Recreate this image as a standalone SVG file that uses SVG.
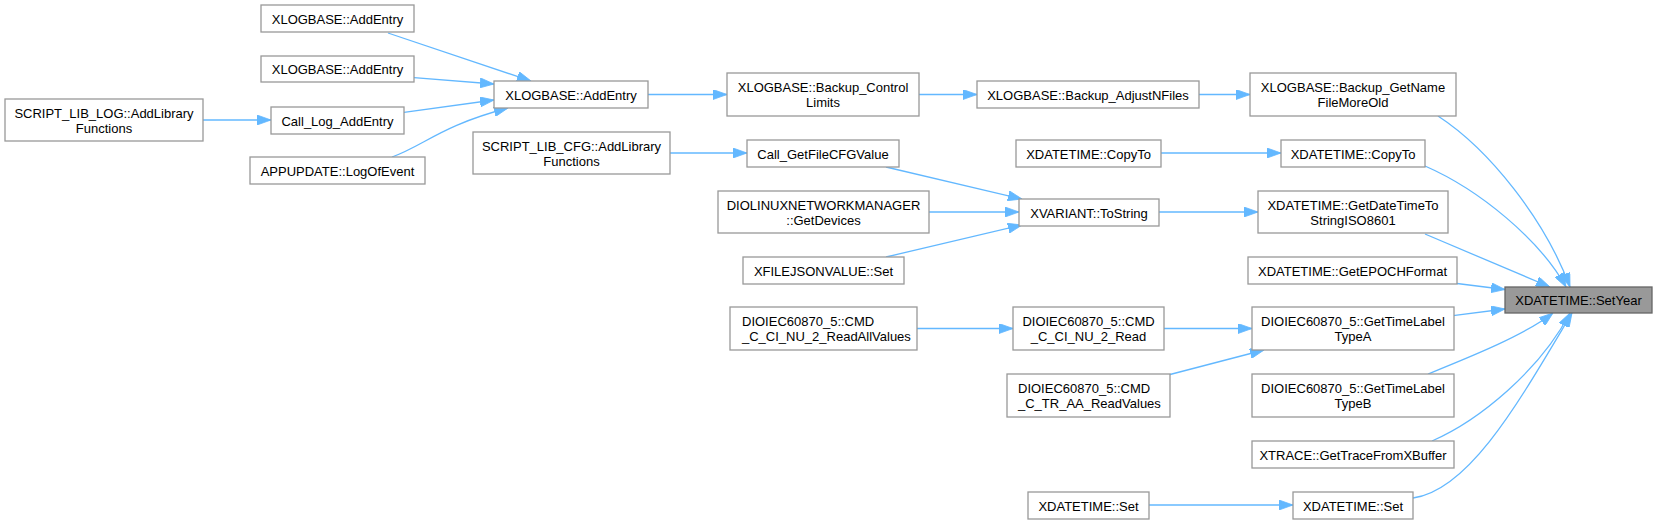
<svg xmlns="http://www.w3.org/2000/svg" width="1658" height="524" viewBox="0 0 1658 524">
<style>
.n rect{fill:#fff;stroke:#999;stroke-width:1.3}
.n.hl rect{fill:#999;stroke:#666}
.n text{font-family:"Liberation Sans",Arial,sans-serif;font-size:13px;fill:#000;text-anchor:middle}
.n text.l{text-anchor:start}
#edges path{fill:none;stroke:#63b8ff;stroke-width:1.3;marker-end:url(#ah)}
</style>
<defs>
<marker id="ah" markerUnits="userSpaceOnUse" markerWidth="14" markerHeight="10" refX="14" refY="5" orient="auto" viewBox="0 0 14 10">
<path d="M0,0 L14,5 L0,10 Z" fill="#63b8ff" stroke="#63b8ff" stroke-width="0.8"/>
</marker>
</defs>
<rect width="1658" height="524" fill="#fff"/>
<g id="edges">
<path d="M388,33 L531,81"/>
<path d="M414,77.7 L494,84"/>
<path d="M404,112.3 L494,100"/>
<path d="M392,157 C425,145 440,126 508,108"/>
<path d="M203,120 L271,120"/>
<path d="M648,94.5 L727,94.5"/>
<path d="M919,94.5 L977,94.5"/>
<path d="M1199,94.5 L1250,94.5"/>
<path d="M1438,116 C1490,150 1545,220 1570,287"/>
<path d="M1425,166 C1480,190 1540,240 1566,287"/>
<path d="M1425,234 L1550,287"/>
<path d="M1457,283.5 L1505,289.5"/>
<path d="M1453,315.7 L1505,309"/>
<path d="M1428,374 C1470,357 1525,335 1553,313"/>
<path d="M1432,441 C1480,420 1540,370 1570,313"/>
<path d="M1413,498 C1470,490 1520,400 1572,313"/>
<path d="M1161,153 L1281,153"/>
<path d="M670,153 L747,153"/>
<path d="M886,167 L1022,199"/>
<path d="M929,212 L1019,212"/>
<path d="M886,257 L1022,225"/>
<path d="M1159,212 L1258,212"/>
<path d="M917,328.5 L1013,328.5"/>
<path d="M1164,328.5 L1252,328.5"/>
<path d="M1170,374.5 L1264,350"/>
<path d="M1149,505 L1293,505"/>
</g>
<g id="n_addentry_top" class="n"><rect x="261" y="5" width="153" height="27"/><text x="337.5" y="23.5">XLOGBASE::AddEntry</text></g>
<g id="n_addentry_2" class="n"><rect x="261" y="56" width="153" height="26"/><text x="337.5" y="74">XLOGBASE::AddEntry</text></g>
<g id="n_script_log" class="n"><rect x="5" y="99" width="198" height="42"/><text x="104" y="117.7">SCRIPT_LIB_LOG::AddLibrary</text><text x="104" y="132.7">Functions</text></g>
<g id="n_call_log" class="n"><rect x="271" y="107" width="133" height="27"/><text x="337.5" y="125.5">Call_Log_AddEntry</text></g>
<g id="n_appupdate" class="n"><rect x="250" y="157" width="175" height="27"/><text x="337.5" y="175.5">APPUPDATE::LogOfEvent</text></g>
<g id="n_addentry_c" class="n"><rect x="494" y="81" width="154" height="27"/><text x="571" y="99.5">XLOGBASE::AddEntry</text></g>
<g id="n_script_cfg" class="n"><rect x="473" y="132" width="197" height="42"/><text x="571.5" y="150.7">SCRIPT_LIB_CFG::AddLibrary</text><text x="571.5" y="165.7">Functions</text></g>
<g id="n_ctrl" class="n"><rect x="727" y="73" width="192" height="43"/><text x="823" y="91.7">XLOGBASE::Backup_Control</text><text x="823" y="106.7">Limits</text></g>
<g id="n_cfgval" class="n"><rect x="747" y="140" width="152" height="27"/><text x="823" y="158.5">Call_GetFileCFGValue</text></g>
<g id="n_dionet" class="n"><rect x="718" y="191" width="211" height="42"/><text x="823.5" y="209.7">DIOLINUXNETWORKMANAGER</text><text x="823.5" y="224.7">::GetDevices</text></g>
<g id="n_json" class="n"><rect x="743" y="257" width="161" height="27"/><text x="823.5" y="275.5">XFILEJSONVALUE::Set</text></g>
<g id="n_readall" class="n"><rect x="730" y="307" width="187" height="43"/><text class="l" x="742" y="325.7">DIOIEC60870_5::CMD</text><text class="l" x="742" y="340.7">_C_CI_NU_2_ReadAllValues</text></g>
<g id="n_adjust" class="n"><rect x="977" y="81" width="222" height="27"/><text x="1088" y="99.5">XLOGBASE::Backup_AdjustNFiles</text></g>
<g id="n_getname" class="n"><rect x="1250" y="73" width="206" height="43"/><text x="1353" y="91.7">XLOGBASE::Backup_GetName</text><text x="1353" y="106.7">FileMoreOld</text></g>
<g id="n_copyto_l" class="n"><rect x="1016" y="140" width="145" height="27"/><text x="1088.5" y="158.5">XDATETIME::CopyTo</text></g>
<g id="n_copyto_r" class="n"><rect x="1281" y="140" width="144" height="27"/><text x="1353" y="158.5">XDATETIME::CopyTo</text></g>
<g id="n_tostring" class="n"><rect x="1019" y="199" width="140" height="27"/><text x="1089" y="217.5">XVARIANT::ToString</text></g>
<g id="n_read" class="n"><rect x="1013" y="307" width="151" height="43"/><text x="1088.5" y="325.7">DIOIEC60870_5::CMD</text><text x="1088.5" y="340.7">_C_CI_NU_2_Read</text></g>
<g id="n_traa" class="n"><rect x="1007" y="374" width="163" height="43"/><text class="l" x="1018" y="392.7">DIOIEC60870_5::CMD</text><text class="l" x="1018" y="407.7">_C_TR_AA_ReadValues</text></g>
<g id="n_set_l" class="n"><rect x="1028" y="492" width="121" height="27"/><text x="1088.5" y="510.5">XDATETIME::Set</text></g>
<g id="n_iso" class="n"><rect x="1258" y="191" width="190" height="42"/><text x="1353" y="209.7">XDATETIME::GetDateTimeTo</text><text x="1353" y="224.7">StringISO8601</text></g>
<g id="n_epoch" class="n"><rect x="1248" y="257" width="209" height="27"/><text x="1352.5" y="275.5">XDATETIME::GetEPOCHFormat</text></g>
<g id="n_typea" class="n"><rect x="1252" y="307" width="202" height="43"/><text x="1353" y="325.7">DIOIEC60870_5::GetTimeLabel</text><text x="1353" y="340.7">TypeA</text></g>
<g id="n_typeb" class="n"><rect x="1252" y="374" width="202" height="43"/><text x="1353" y="392.7">DIOIEC60870_5::GetTimeLabel</text><text x="1353" y="407.7">TypeB</text></g>
<g id="n_xtrace" class="n"><rect x="1252" y="441" width="202" height="27"/><text x="1353" y="459.5">XTRACE::GetTraceFromXBuffer</text></g>
<g id="n_set_r" class="n"><rect x="1293" y="492" width="120" height="27"/><text x="1353" y="510.5">XDATETIME::Set</text></g>
<g id="n_setyear" class="n hl"><rect x="1505" y="287" width="147" height="26"/><text x="1578.5" y="304.5">XDATETIME::SetYear</text></g>
</svg>
